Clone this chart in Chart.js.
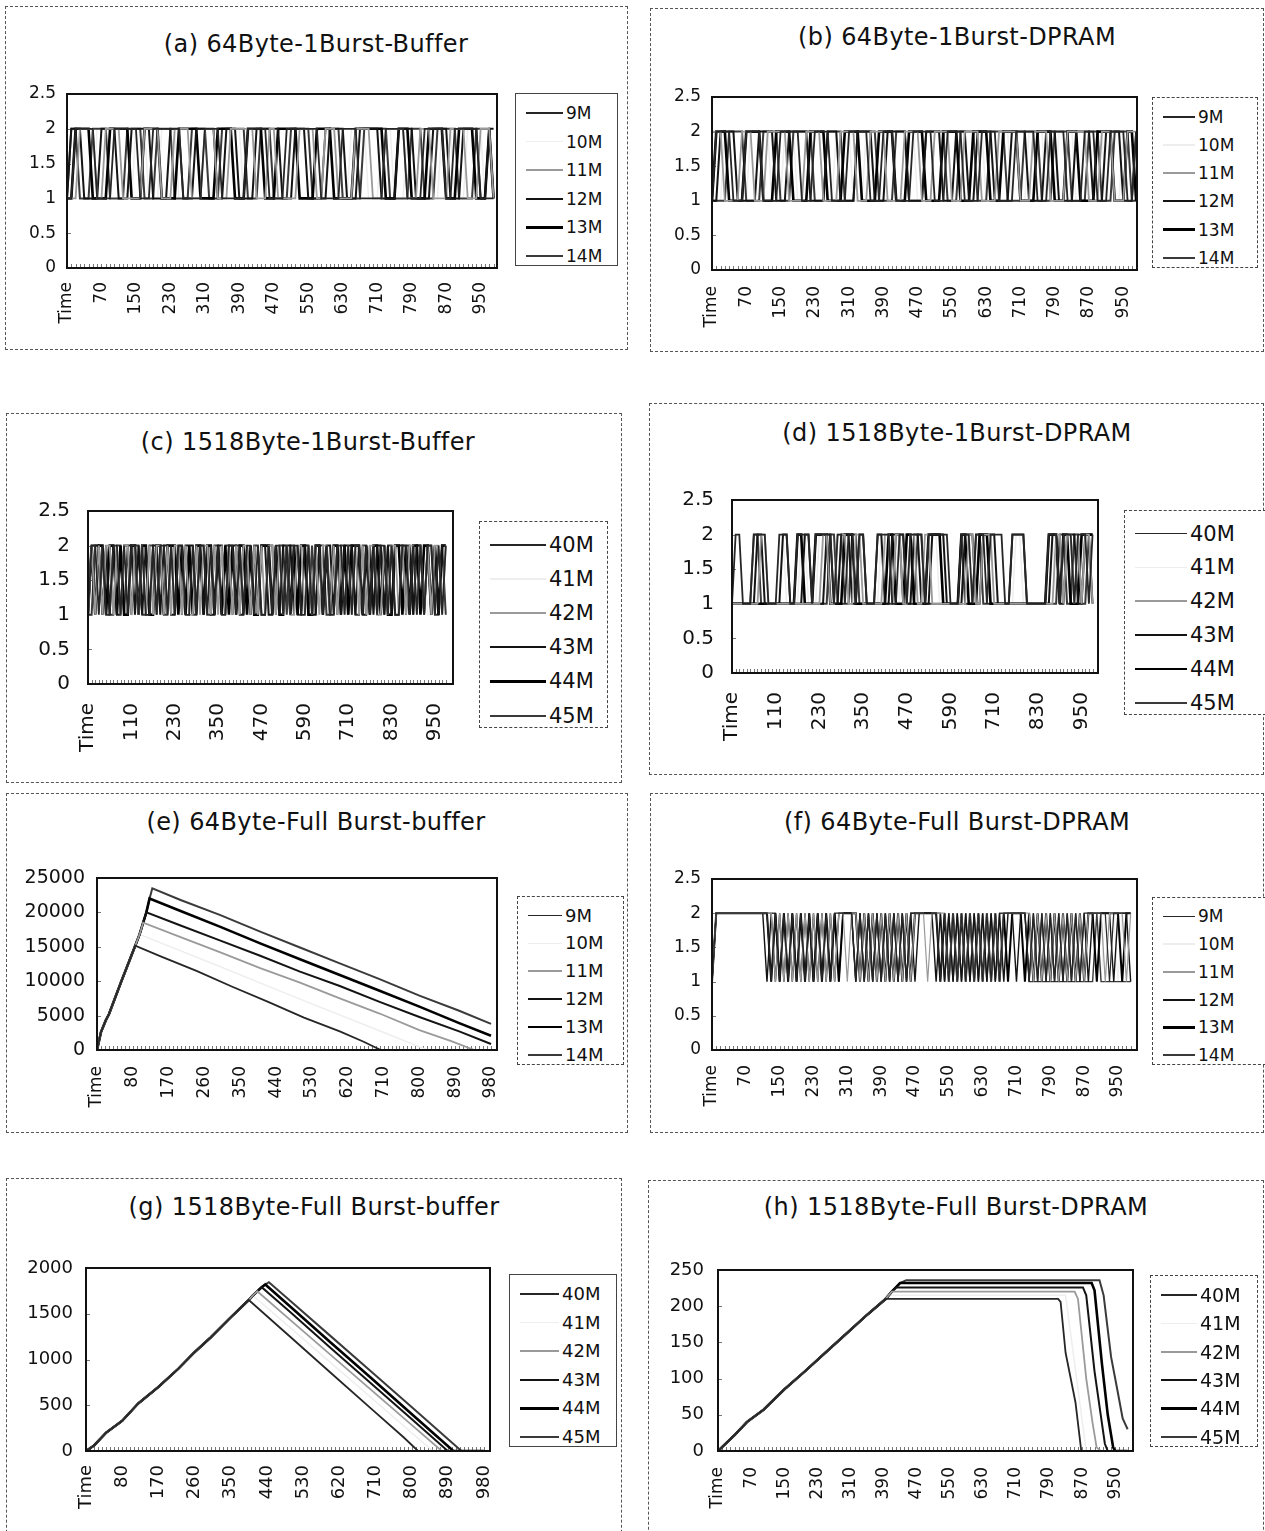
<!DOCTYPE html>
<html>
<head>
<meta charset="utf-8">
<script src="https://cdn.jsdelivr.net/npm/chart.js@4.4.0/dist/chart.umd.min.js"></script>
<style>
	body{margin:0;background:#fff;width:1265px;height:1531px;overflow:hidden;position:relative;font-family:"DejaVu Sans",sans-serif;color:#111}
	.box{position:absolute;border:1px dashed #555;box-sizing:border-box}
	.ttl{position:absolute;font-size:24px;line-height:30px;text-align:center;white-space:nowrap;letter-spacing:0.4px}
	.leg{position:absolute;box-sizing:border-box;border:1px solid #444;background:#fff}
	.leg.dash{border-style:dashed}
	.leg .ln{position:absolute}
	.leg .lb{position:absolute;line-height:20px}
	canvas{position:absolute}
</style>
</head>
<body>
<script>
// ---- данные ----
const names64 = ['9M', '10M', '11M', '12M', '13M', '14M'];
const names1518 = ['40M', '41M', '42M', '43M', '44M', '45M'];

const ticks64 = [-10, 70, 150, 230, 310, 390, 470, 550, 630, 710, 790, 870, 950];
const ticks1518 = [-10, 110, 230, 350, 470, 590, 710, 830, 950];
const ticksFull = [-10, 80, 170, 260, 350, 440, 530, 620, 710, 800, 890, 980];

// время: -10 ("Time"), 0, 10 ... 980
const times = [];
for (let t = -10; t <= 980; t += 10) times.push(t);

// (a) 64Byte-1Burst-Buffer
const a9M  = [1,1,2,2,2,2,2,1,1,1, 1,2,2,2,2,2,2,1,1,1, 2,2,2,2,2,2,2,1,1,1, 1,1,2,2,2,2,1,1,1,1, 1,1,2,2,2,2,2,1,1,1, 1,2,2,2,2,2,2,2,2,1, 1,1,1,1,2,2,2,2,1,1, 1,1,1,1,2,2,2,2,2,1, 1,1,1,2,2,2,2,2,1,1, 2,2,2,2,2,2,1,1,1,1];
const a10M = [1,2,2,2,1,1,1,2,2,2, 2,2,1,1,1,1,2,2,2,1, 1,1,2,2,2,2,1,1,1,2, 2,2,2,1,1,1,1,2,2,2, 2,1,1,1,2,2,2,2,1,1, 1,2,2,2,1,1,1,1,2,2, 2,2,2,1,1,1,2,2,2,2, 1,1,1,2,2,2,1,1,1,2, 2,2,2,2,1,1,1,2,2,2, 1,1,1,2,2,2,2,1,1,1];
const a11M = [1,1,1,2,2,2,2,1,1,2, 2,2,2,1,1,1,1,1,2,2, 2,2,1,1,1,2,2,2,2,1, 1,1,2,2,2,1,1,1,2,2, 2,2,2,2,1,1,1,2,2,1, 1,1,1,1,2,2,2,2,1,1, 2,2,2,1,1,1,1,2,2,2, 2,1,1,1,2,2,2,2,2,1, 1,1,2,2,2,1,1,1,1,2, 2,2,2,1,1,1,2,2,2,1];
const a12M = [1,2,2,2,1,1,1,1,2,2, 2,2,1,1,1,2,2,2,2,2, 1,1,1,1,2,2,2,1,1,1, 2,2,2,2,2,1,1,2,2,2, 1,1,1,1,2,2,2,2,2,2, 1,1,1,2,2,2,1,1,1,1, 1,2,2,2,2,1,1,1,2,2, 2,2,2,1,1,1,1,2,2,2, 2,1,1,1,1,2,2,2,2,1, 1,1,2,2,2,2,1,1,2,2];
const a13M = [1,1,2,2,2,2,1,1,1,1, 2,2,2,2,2,1,1,1,2,2, 2,2,1,1,1,1,2,2,2,2, 2,1,1,1,1,2,2,2,2,1, 1,1,2,2,2,2,1,1,1,2, 2,2,2,2,1,1,1,1,2,2, 2,2,1,1,1,1,1,2,2,2, 2,2,2,2,1,1,1,2,2,2, 1,1,1,1,2,2,2,2,1,1, 1,2,2,2,2,1,1,1,2,1];
const a14M = [1,2,2,1,1,1,2,2,2,2, 1,1,1,1,2,2,2,2,1,1, 1,2,2,2,2,1,1,1,1,2, 2,2,2,1,1,1,2,2,2,2, 2,2,1,1,1,2,2,2,1,1, 1,1,2,2,2,2,2,1,1,1, 2,2,2,2,1,1,1,1,1,2, 2,2,2,2,2,1,1,1,1,1, 2,2,2,1,1,1,2,2,2,2, 2,1,1,1,1,2,2,2,2,1];

// (b) 64Byte-1Burst-DPRAM
const b9M  = [1,2,2,2,2,1,1,1,2,2, 2,2,1,1,1,1,2,2,2,2, 2,1,1,1,2,2,2,2,1,1, 1,1,2,2,2,2,2,1,1,1, 2,2,2,1,1,1,1,2,2,2, 2,2,1,1,1,2,2,2,2,1, 1,1,1,2,2,2,2,1,1,1, 1,2,2,2,2,2,1,1,1,2, 2,2,2,1,1,1,1,2,2,2, 1,1,1,2,2,2,2,1,1,2];
const b10M = [1,1,1,2,2,2,1,1,1,2, 2,2,2,2,1,1,1,2,2,2, 1,1,1,1,2,2,2,1,1,2, 2,2,2,1,1,1,2,2,2,1, 1,1,1,2,2,2,2,2,1,1, 1,1,2,2,2,1,1,1,1,2, 2,2,2,2,1,1,1,2,2,2, 1,1,1,1,2,2,2,2,1,1, 1,2,2,2,2,1,1,1,2,2, 2,2,1,1,1,1,2,2,2,2];
const b11M = [2,2,2,1,1,1,1,2,2,2, 1,1,1,2,2,2,2,2,1,1, 1,1,2,2,2,2,1,1,1,1, 2,2,2,2,1,1,1,2,2,2, 2,1,1,1,1,2,2,2,2,1, 1,1,2,2,2,2,1,1,1,2, 2,2,2,1,1,1,1,2,2,2, 2,2,1,1,1,2,2,2,2,1, 1,1,1,2,2,2,2,2,1,1, 1,2,2,2,1,1,1,2,2,2];
const b12M = [1,1,2,2,2,2,1,1,1,1, 1,2,2,2,2,1,1,1,2,2, 2,2,2,1,1,1,1,2,2,2, 1,1,1,1,2,2,2,2,1,1, 1,2,2,2,2,2,1,1,1,1, 2,2,2,2,1,1,1,2,2,2, 1,1,2,2,2,2,1,1,1,1, 2,2,2,2,1,1,1,1,2,2, 2,1,1,1,1,2,2,2,2,1, 1,1,2,2,2,2,1,1,1,2];
const b13M = [1,2,2,2,1,1,1,1,2,2, 2,2,1,1,1,2,2,2,2,1, 1,1,1,2,2,2,2,1,1,1, 1,2,2,2,2,1,1,1,1,2, 2,2,2,1,1,1,2,2,2,2, 1,1,1,1,2,2,2,2,1,1, 1,2,2,2,2,1,1,1,2,2, 2,2,1,1,1,1,2,2,2,2, 1,1,1,2,2,2,1,1,1,1, 2,2,2,2,1,1,1,2,2,1];
const b14M = [1,1,1,1,2,2,2,2,1,1, 1,1,2,2,2,2,1,1,1,2, 2,2,2,2,1,1,1,2,2,2, 2,1,1,1,2,2,2,2,2,1, 1,1,1,2,2,2,1,1,1,1, 2,2,2,2,2,1,1,1,2,2, 2,2,1,1,1,2,2,2,2,1, 1,1,1,2,2,2,2,1,1,1, 2,2,2,2,1,1,1,1,2,2, 2,1,1,1,2,2,2,2,1,1];

// (c) 1518Byte-1Burst-Buffer
const c40M = [1,2,2,1,2,1,1,2,2,1, 2,1,2,2,1,2,1,1,2,1, 2,2,1,2,1,2,2,1,1,2, 1,2,2,1,2,1,2,1,1,2, 2,1,2,1,2,2,1,2,1,1, 2,1,2,2,1,2,1,2,2,1, 1,2,1,2,2,1,2,1,1,2, 2,1,2,1,2,2,1,2,1,2, 1,2,2,1,2,1,1,2,2,1, 2,1,2,1,2,2,1,2,1,2];
const c41M = [1,1,2,1,2,2,1,2,1,2, 1,2,1,1,2,1,2,2,1,2, 1,1,2,1,2,1,1,2,2,1, 2,1,1,2,1,2,1,2,2,1, 1,2,1,2,1,1,2,1,2,2, 1,2,1,1,2,1,2,1,1,2, 2,1,2,1,1,2,1,2,2,1, 1,2,1,2,1,1,2,1,2,1, 2,1,1,2,1,2,2,1,1,2, 1,2,1,2,1,1,2,1,2,1];
const c42M = [1,2,1,2,1,2,2,1,2,1, 2,2,1,2,1,2,1,2,1,2, 2,1,2,1,2,2,1,2,1,1, 2,1,2,2,1,2,1,2,1,2, 1,2,1,2,2,1,2,1,2,1, 2,2,1,2,1,2,1,1,2,2, 1,2,1,2,1,2,2,1,2,1, 2,1,2,1,2,1,2,1,2,2, 1,1,2,1,2,2,1,2,1,2, 2,1,2,1,2,1,2,2,1,2];
const c43M = [1,2,2,2,1,2,1,2,1,1, 2,2,2,1,2,1,2,1,2,2, 1,2,2,1,1,2,1,2,2,2, 1,2,1,2,1,1,2,2,1,2, 2,2,1,1,2,1,2,1,2,2, 1,1,2,1,2,2,2,1,2,1, 2,2,1,1,2,1,2,2,1,2, 1,2,2,2,1,2,1,1,2,1, 2,2,1,2,1,2,2,2,1,2, 1,2,2,1,2,1,2,1,2,2];
const c44M = [1,2,1,2,2,1,2,2,1,2, 1,1,2,2,1,2,2,1,1,2, 2,1,2,2,2,1,2,1,2,1, 2,2,1,2,2,1,2,1,2,1, 2,1,2,2,1,2,1,1,2,2, 2,1,2,1,1,2,1,2,1,2, 2,1,1,2,2,1,2,1,2,2, 1,2,1,2,2,2,1,2,1,2, 2,1,2,1,1,2,2,1,2,1, 2,2,1,2,2,1,2,1,2,2];
const c45M = [1,1,2,2,1,2,1,1,2,2, 1,2,1,2,2,1,1,2,2,1, 2,1,1,2,1,2,2,1,2,1, 1,2,2,1,1,2,2,1,2,2, 1,2,2,1,2,1,2,2,1,1, 2,2,1,2,2,1,2,2,1,1, 2,1,2,1,2,2,1,1,2,1, 2,2,1,2,1,1,2,2,1,2, 1,2,1,2,2,1,1,2,2,2, 1,2,2,1,2,2,1,1,2,1];

// (d) 1518Byte-1Burst-DPRAM
const d40M = [1,2,2,1,1,1,2,2,2,2, 1,1,1,2,2,2,1,1,2,2, 2,2,1,2,2,2,2,2,1,2, 2,1,2,2,1,2,2,1,1,1, 2,2,2,2,1,1,2,2,1,2, 2,2,2,1,2,2,2,2,2,2, 1,1,1,2,2,2,1,2,2,2, 1,2,2,2,2,1,1,2,2,2, 2,1,1,1,1,1,1,2,2,2, 1,2,2,2,1,2,2,2,1,2];
const d41M = [1,1,1,1,1,1,1,2,2,1, 1,1,1,1,2,1,1,1,1,2, 2,1,1,1,2,2,1,1,2,1, 1,2,2,1,2,1,1,1,1,1, 1,2,2,1,2,2,1,2,2,1, 2,1,1,1,1,2,2,1,1,1, 1,1,1,1,2,2,1,2,1,2, 2,1,1,1,1,1,1,1,2,2, 1,1,1,1,1,1,1,1,2,1, 2,2,1,2,2,1,2,1,2,2];
const d42M = [1,1,1,1,1,1,1,1,2,2, 1,1,1,1,1,1,1,1,1,1, 1,1,1,1,1,2,2,1,1,2, 2,2,1,1,2,2,1,1,1,1, 1,1,2,2,1,2,2,1,1,2, 2,1,1,2,2,1,1,1,1,1, 1,1,1,1,1,2,2,1,1,2, 2,2,1,1,1,1,1,1,1,1, 1,1,1,1,1,1,1,1,1,2, 2,1,2,2,1,2,1,2,2,1];
const d43M = [1,1,1,1,1,1,1,2,2,1, 1,1,1,1,2,2,1,1,1,1, 2,2,1,1,1,1,2,2,1,1, 2,2,2,1,1,2,2,1,1,1, 2,2,1,1,2,2,2,2,1,1, 2,2,1,1,1,2,2,2,2,1, 1,1,1,1,2,2,2,1,1,2, 2,2,2,1,1,1,1,2,2,2, 2,1,1,1,1,1,1,1,2,2, 1,1,2,2,2,1,1,2,2,1];
const d44M = [1,1,1,1,1,1,1,1,1,1, 1,1,1,1,1,1,1,1,2,2, 1,1,1,2,2,2,2,1,1,1, 1,2,2,2,1,1,1,1,1,1, 1,1,1,2,2,1,1,1,2,2, 1,1,1,1,2,2,2,2,1,1, 1,1,1,2,2,1,1,1,2,2, 2,1,1,1,1,1,1,1,1,1, 1,1,1,1,1,1,1,2,2,2, 1,2,2,1,1,1,2,2,2,2];
const d45M = [1,1,1,1,1,1,2,2,1,1, 1,1,1,1,1,1,1,1,1,1, 1,1,1,1,1,1,1,2,2,1, 1,1,1,2,2,1,1,1,1,1, 1,1,1,1,1,2,2,1,1,1, 1,2,2,1,1,1,1,1,1,1, 1,1,1,2,1,1,1,2,2,1, 1,1,1,1,1,1,1,1,1,1, 1,1,1,1,1,1,1,1,1,1, 2,2,1,1,2,2,1,1,2,2];

// (e) 64Byte-Full Burst-buffer  [time, value]
const e9M  = [[-10,0],[0,2600],[12,4300],[20,5200],[50,9800],[86,15150],[150,13600],[240,11500],[330,9200],[420,7000],[510,4700],[600,2700],[660,1200],[703,0],[980,0]];
const e10M = [[-10,0],[0,2600],[12,4300],[20,5200],[50,9800],[86,15150],[97,16800],[300,12100],[500,7400],[700,2800],[820,0],[980,0]];
const e11M = [[-10,0],[0,2600],[12,4300],[20,5200],[50,9800],[86,15150],[97,16800],[106,18500],[200,16400],[300,14200],[400,11900],[500,9800],[600,7500],[700,5300],[800,2900],[880,1300],[938,0],[980,0]];
const e12M = [[-10,0],[0,2600],[12,4300],[20,5200],[50,9800],[86,15150],[97,16800],[106,18500],[114,20000],[200,18100],[300,15900],[400,13700],[500,11400],[600,9300],[700,7000],[800,4800],[900,2700],[980,880]];
const e13M = [[-10,0],[0,2600],[12,4300],[20,5200],[50,9800],[86,15150],[97,16800],[106,18500],[114,20000],[122,22000],[200,20200],[300,17900],[400,15500],[500,13200],[600,10900],[700,8600],[800,6300],[900,3900],[980,2060]];
const e14M = [[-10,0],[0,2600],[12,4300],[20,5200],[50,9800],[86,15150],[97,16800],[106,18500],[114,20000],[122,22000],[129,23500],[200,21800],[300,19600],[400,17200],[500,14900],[600,12600],[700,10300],[800,7900],[900,5700],[980,3800]];

// (f) 64Byte-Full Burst-DPRAM
const f9M  = [1,2,2,2,2,2,2,2,2,2, 2,2,2,2,1,2,1,2,1,2, 1,2,1,2,1,2,1,2,1,2, 2,2,2,2,1,2,1,2,1,2, 1,2,1,2,1,2,1,2,2,2, 2,2,2,2,1,2,1,2,1,2, 1,2,1,2,1,2,1,2,1,2, 2,2,2,2,2,1,2,1,2,1, 2,1,2,1,2,1,2,1,2,2, 2,2,2,2,1,2,2,2,2,2];
const f10M = [1,2,2,2,2,2,2,2,2,2, 2,2,2,1,2,1,2,1,2,1, 2,1,2,1,2,1,2,1,2,1, 2,2,2,2,2,1,2,1,2,1, 2,1,2,1,2,1,2,1,2,2, 2,2,2,2,2,1,2,1,2,1, 2,1,2,1,2,1,2,1,2,1, 2,2,2,2,1,2,1,2,1,2, 1,2,1,2,1,2,1,2,1,2, 2,2,1,2,2,2,1,2,2,2];
const f11M = [1,2,2,2,2,2,2,2,2,2, 2,2,2,2,2,1,2,1,2,1, 2,1,2,1,2,1,2,1,2,1, 2,2,1,2,2,1,2,1,2,1, 2,1,2,1,2,1,2,1,2,2, 2,1,2,2,2,2,1,2,1,2, 1,2,1,2,1,2,1,2,1,2, 2,2,2,2,2,2,1,2,1,2, 1,2,1,2,1,2,1,2,1,2, 2,2,2,1,2,2,2,2,1,2];
const f12M = [1,2,2,2,2,2,2,2,2,2, 2,2,2,1,2,1,2,1,2,1, 2,1,2,1,2,1,2,1,2,1, 2,2,2,2,1,2,1,2,1,2, 1,2,1,2,1,2,1,2,1,2, 2,2,2,1,2,1,2,1,2,1, 2,1,2,1,2,1,2,1,2,1, 2,2,1,2,2,1,2,1,2,1, 2,1,2,1,2,1,2,1,2,1, 2,2,2,2,2,1,2,2,2,1];
const f13M = [1,2,2,2,2,2,2,2,2,2, 2,2,2,2,1,2,1,2,1,2, 1,2,1,2,1,2,1,2,1,2, 1,2,2,2,2,1,2,1,2,1, 2,1,2,1,2,1,2,1,2,2, 2,2,2,2,1,2,1,2,1,2, 1,2,1,2,1,2,1,2,1,2, 1,2,2,2,1,2,1,2,1,2, 1,2,1,2,1,2,1,2,1,2, 2,1,2,2,2,2,2,1,2,2];
const f14M = [1,2,2,2,2,2,2,2,2,2, 2,2,2,2,2,2,1,2,1,2, 1,2,1,2,1,2,1,2,1,2, 1,2,2,2,1,2,1,2,1,2, 1,2,1,2,1,2,1,2,2,2, 2,2,2,2,2,1,2,1,2,1, 2,1,2,1,2,1,2,1,2,2, 2,2,2,2,2,1,1,1,1,1, 1,1,1,1,1,1,1,1,1,1, 1,2,1,1,1,1,1,1,1,1];

// (g) 1518Byte-Full Burst-buffer  [time, value]
const g40M = [[-10,0],[10,60],[40,200],[80,330],[120,520],[170,700],[220,900],[260,1080],[300,1240],[350,1460],[395,1650],[500,1240],[600,850],[700,460],[780,150],[816,0],[980,0]];
const g41M = [[-10,0],[10,60],[40,200],[80,330],[120,520],[170,700],[220,900],[260,1080],[300,1240],[350,1460],[395,1650],[405,1700],[500,1340],[600,960],[700,580],[800,200],[853,0],[980,0]];
const g42M = [[-10,0],[10,60],[40,200],[80,330],[120,520],[170,700],[220,900],[260,1080],[300,1240],[350,1460],[395,1650],[405,1700],[416,1745],[500,1425],[600,1045],[700,665],[800,285],[875,0],[980,0]];
const g43M = [[-10,0],[10,60],[40,200],[80,330],[120,520],[170,700],[220,900],[260,1080],[300,1240],[350,1460],[395,1650],[405,1700],[416,1745],[427,1790],[500,1510],[600,1120],[700,735],[800,350],[890,0],[980,0]];
const g44M = [[-10,0],[10,60],[40,200],[80,330],[120,520],[170,700],[220,900],[260,1080],[300,1240],[350,1460],[395,1650],[405,1700],[416,1745],[427,1790],[436,1820],[500,1570],[600,1180],[700,795],[800,405],[904,0],[980,0]];
const g45M = [[-10,0],[10,60],[40,200],[80,330],[120,520],[170,700],[220,900],[260,1080],[300,1240],[350,1460],[395,1650],[405,1700],[416,1745],[427,1790],[436,1820],[445,1845],[500,1635],[600,1250],[700,865],[800,480],[924,0],[980,0]];

// (h) 1518Byte-Full Burst-DPRAM  [time, value]
const h40M = [[-10,0],[30,22],[60,40],[100,57],[150,85],[200,110],[250,136],[300,162],[350,188],[395,210],[812,210],[818,206],[830,136],[854,67],[868,0],[980,0]];
const h41M = [[-10,0],[30,22],[60,40],[100,57],[150,85],[200,110],[250,136],[300,162],[350,188],[395,210],[405,215],[830,215],[880,0],[980,0]];
const h42M = [[-10,0],[30,22],[60,40],[100,57],[150,85],[200,110],[250,136],[300,162],[350,188],[395,210],[410,220],[852,220],[860,210],[880,100],[895,40],[905,5],[915,0],[980,0]];
const h43M = [[-10,0],[30,22],[60,40],[100,57],[150,85],[200,110],[250,136],[300,162],[350,188],[395,210],[410,220],[420,226],[872,226],[880,215],[900,110],[915,50],[925,10],[932,0],[980,0]];
const h44M = [[-10,0],[30,22],[60,40],[100,57],[150,85],[200,110],[250,136],[300,162],[350,188],[395,210],[410,220],[420,226],[430,232],[893,232],[900,222],[918,120],[932,50],[945,5],[950,0],[980,0]];
const h45M = [[-10,0],[30,22],[60,40],[100,57],[150,85],[200,110],[250,136],[300,162],[350,188],[395,210],[410,220],[420,226],[430,232],[445,236],[912,236],[922,215],[940,130],[955,85],[968,45],[980,30]];

// ---- оформление ----
const colors = ['#262626', '#eeeeee', '#9a9a9a', '#141414', '#000000', '#3a3a3a'];
const widths = [1.8, 1.5, 1.8, 2, 2.6, 2];

// fy/fx/fl - шрифты подписей оси Y, оси X и легенды; py/px - отступы подписей от осей
const charts = [
	{title: '(a) 64Byte-1Burst-Buffer', box: [5, 6, 623, 344], tcx: 316, tcy: 44, plot: [67, 94, 497, 268], xmax: 988,
		xticks: ticks64, ymax: 2.5, ystep: 0.5, names: names64, series: [a9M, a10M, a11M, a12M, a13M, a14M], leg: [515, 93, 618, 266, 51], dash: false,
		fy: 17, fx: 17, fl: 17, py: 11, px: 14},
	{title: '(b) 64Byte-1Burst-DPRAM', box: [650, 8, 614, 344], tcx: 957, tcy: 37, plot: [712, 97, 1137, 270], xmax: 982,
		xticks: ticks64, ymax: 2.5, ystep: 0.5, names: names64, series: [b9M, b10M, b11M, b12M, b13M, b14M], leg: [1152, 97, 1258, 268, 46], dash: true,
		fy: 17, fx: 17, fl: 17, py: 11, px: 16},
	{title: '(c) 1518Byte-1Burst-Buffer', box: [6, 413, 616, 370], tcx: 308, tcy: 442, plot: [88, 511, 453, 684], xmax: 1000,
		xticks: ticks1518, ymax: 2.5, ystep: 0.5, names: names1518, series: [c40M, c41M, c42M, c43M, c44M, c45M], leg: [479, 521, 608, 728, 70], dash: true,
		fy: 20, fx: 20, fl: 21, py: 18, px: 19},
	{title: '(d) 1518Byte-1Burst-DPRAM', box: [649, 403, 615, 372], tcx: 957, tcy: 433, plot: [732, 500, 1098, 673], xmax: 995,
		xticks: ticks1518, ymax: 2.5, ystep: 0.5, names: names1518, series: [d40M, d41M, d42M, d43M, d44M, d45M], leg: [1124, 510, 1266, 715, 66], dash: true,
		fy: 20, fx: 20, fl: 21, py: 18, px: 19},
	{title: '(e) 64Byte-Full Burst-buffer', box: [6, 793, 622, 340], tcx: 316, tcy: 822, plot: [97, 878, 497, 1050], xmax: 995,
		xticks: ticksFull, ymax: 25000, ystep: 5000, names: names64, series: [e9M, e10M, e11M, e12M, e13M, e14M], leg: [517, 896, 624, 1065, 48], dash: true,
		fy: 19, fx: 17, fl: 18, py: 12, px: 16},
	{title: '(f) 64Byte-Full Burst-DPRAM', box: [650, 793, 614, 340], tcx: 957, tcy: 822, plot: [712, 879, 1137, 1050], xmax: 995,
		xticks: ticks64, ymax: 2.5, ystep: 0.5, names: names64, series: [f9M, f10M, f11M, f12M, f13M, f14M], leg: [1152, 897, 1266, 1065, 46], dash: true, thin: true,
		fy: 17, fx: 17, fl: 17, py: 11, px: 15},
	{title: '(g) 1518Byte-Full Burst-buffer', box: [6, 1178, 616, 400], tcx: 314, tcy: 1207, plot: [86, 1268, 490, 1451], xmax: 995,
		xticks: ticksFull, ymax: 2000, ystep: 500, names: names1518, series: [g40M, g41M, g42M, g43M, g44M, g45M], leg: [509, 1274, 617, 1447, 53], dash: false,
		fy: 18, fx: 18, fl: 18, py: 13, px: 14},
	{title: '(h) 1518Byte-Full Burst-DPRAM', box: [648, 1180, 616, 400], tcx: 956, tcy: 1207, plot: [718, 1270, 1133, 1451], xmax: 993,
		xticks: ticks64, ymax: 250, ystep: 50, names: names1518, series: [h40M, h41M, h42M, h43M, h44M, h45M], leg: [1150, 1275, 1258, 1447, 50], dash: true,
		fy: 18, fx: 17, fl: 19, py: 14, px: 16}
];

// рамка области построения и мелкие внутренние засечки
const framePlugin = {
	id: 'frame',
	beforeDatasetsDraw(chart){
		const {ctx, chartArea: a, scales: {x, y}} = chart;
		ctx.save();
		ctx.strokeStyle = '#777';
		ctx.lineWidth = 1;
		ctx.beginPath();
		for (let v = -10; v <= 980; v += 10){
			const px = Math.round(x.getPixelForValue(v)) + 0.5;
			ctx.moveTo(px, a.bottom);
			ctx.lineTo(px, a.bottom - 4);
		}
		for (const t of y.ticks){
			const py = Math.round(y.getPixelForValue(t.value)) + 0.5;
			ctx.moveTo(a.left, py);
			ctx.lineTo(a.left + 4, py);
		}
		ctx.stroke();
		ctx.restore();
	},
	afterDatasetsDraw(chart){
		const {ctx, chartArea: a} = chart;
		ctx.save();
		ctx.strokeStyle = '#111';
		ctx.lineWidth = 2;
		ctx.strokeRect(a.left, a.top, a.width, a.height);
		ctx.restore();
	}
};

function el(cls, parent){
	const $1 = document.createElement('div');
	if (cls) $1.className = cls;
	(parent || document.body).appendChild($1);
	return $1;
}

const PAD_TOP = 34;  // с запасом: подпись верхнего деления + отступ
const PAD_RIGHT = 40; // с запасом под повёрнутую последнюю подпись X
const X_H = 84;

function makeChart(c){
	const box = el('box');
	box.style.cssText = `left:${c.box[0]}px;top:${c.box[1]}px;width:${c.box[2]}px;height:${c.box[3]}px`;

	const ttl = el('ttl');
	ttl.textContent = c.title;
	ttl.style.cssText = `left:${c.tcx - 250}px;width:500px;top:${c.tcy - 15}px`;

	const [pl, pt, pr, pb] = c.plot;
	const cl = c.box[0] + 2, ct = pt - PAD_TOP;
	const cw = pr + PAD_RIGHT - cl, ch = pb + X_H - ct;
	const cv = document.createElement('canvas');
	cv.width = cw; cv.height = ch;
	cv.style.cssText = `left:${cl}px;top:${ct}px;width:${cw}px;height:${ch}px`;
	document.body.appendChild(cv);

	const isPairs = Array.isArray(c.series[0][0]);
	const datasets = c.series.map((s, i) => ({
		label: c.names[i],
		data: s,
		borderColor: colors[i],
		borderWidth: c.thin ? Math.max(1.2, widths[i] - 0.6) : widths[i],
		pointRadius: 0,
		tension: 0,
		fill: false,
		order: i === 1 ? 10 : 0 // светлая серия рисуется первой
	}));

	new Chart(cv, {
		type: 'line',
		data: isPairs ? {datasets} : {labels: times, datasets},
		options: {
			responsive: false,
			animation: false,
			events: [],
			layout: {padding: {top: PAD_TOP, right: PAD_RIGHT, bottom: 0, left: 0}},
			plugins: {legend: {display: false}, title: {display: false}, tooltip: {enabled: false}},
			scales: {
				x: {
					type: 'linear',
					min: -10,
					max: c.xmax,
					afterBuildTicks: s => { s.ticks = c.xticks.map(v => ({value: v})); },
					afterFit: s => { s.height = X_H; },
					grid: {display: false, drawTicks: false},
					border: {display: false},
					ticks: {
						autoSkip: false,
						minRotation: 90,
						maxRotation: 90,
						padding: c.px,
						color: '#111',
						font: {family: 'DejaVu Sans', size: c.fx},
						callback: v => v === -10 ? 'Time' : String(v)
					}
				},
				y: {
					min: 0,
					max: c.ymax,
					afterFit: s => { s.width = pl - cl; },
					grid: {display: false, drawTicks: false},
					border: {display: false},
					ticks: {
						stepSize: c.ystep,
						padding: c.py,
						color: '#111',
						font: {family: 'DejaVu Sans', size: c.fy},
						callback: v => String(v)
					}
				}
			}
		},
		plugins: [framePlugin]
	});

	// легенда
	const [ll, lt, lr, lb, tx] = c.leg;
	const lg = el('leg' + (c.dash ? ' dash' : ''));
	lg.style.cssText = `left:${ll}px;top:${lt}px;width:${lr - ll}px;height:${lb - lt}px`;
	const h = lb - lt;
	c.names.forEach((n, i) => {
		const cy = h * 0.11 + i * h * 0.165;
		const w = widths[i];
		const ln = el('ln', lg);
		ln.style.cssText = `left:10px;width:${tx - 14}px;top:${cy - w / 2}px;height:${w}px;background:${colors[i]}`;
		const lbEl = el('lb', lg);
		lbEl.textContent = n;
		lbEl.style.cssText = `left:${tx - 1}px;top:${cy - 10}px;font-size:${c.fl}px`;
	});
}

charts.forEach(makeChart);
</script>
</body>
</html>
